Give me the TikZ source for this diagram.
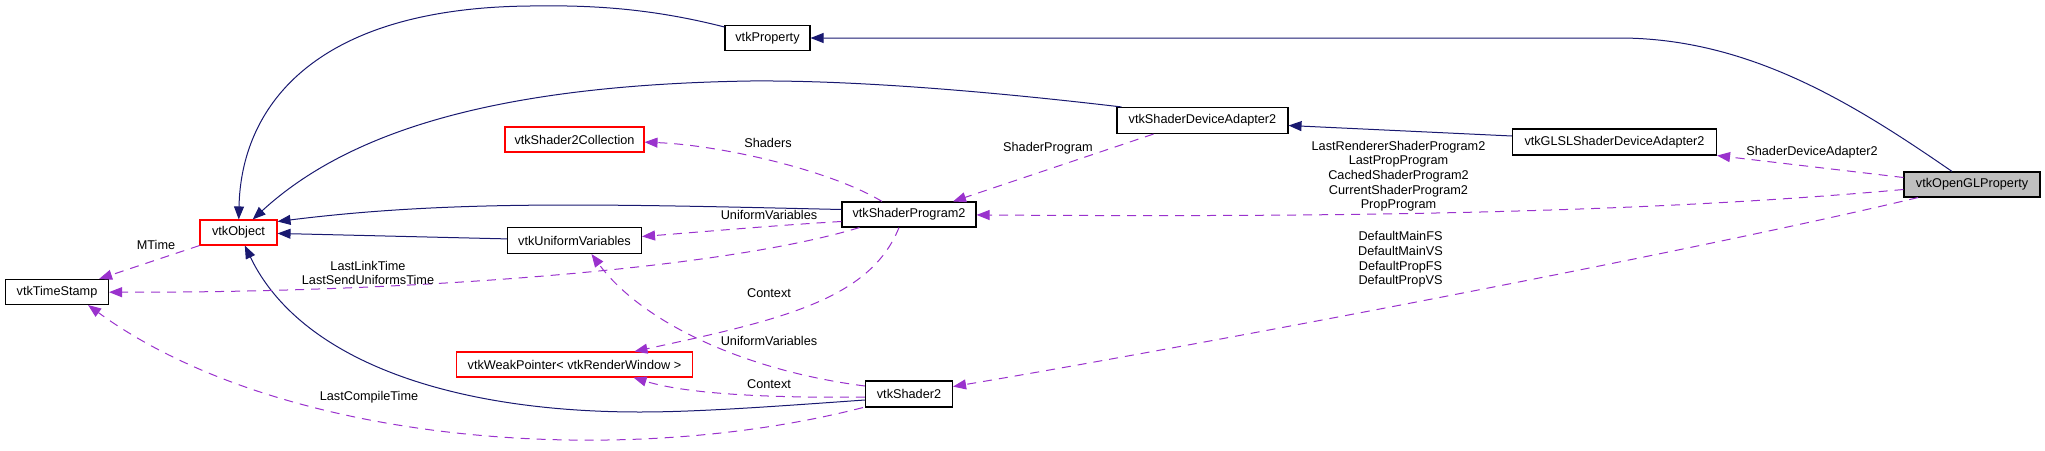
\documentclass[tikz,border=0pt]{standalone}
\usepackage{fontspec}
\setmainfont{Liberation Sans}
\usetikzlibrary{arrows.meta}
\definecolor{inhcol}{HTML}{191970}
\definecolor{asscol}{HTML}{9A32CD}
\definecolor{boxgray}{HTML}{BFBFBF}
\begin{document}
\begin{tikzpicture}[x=1pt,y=-1pt,
  font=\fontsize{12.7}{14.6}\selectfont,
  cls/.style={draw=black, line width=1.1pt, fill=white, inner sep=0pt, minimum height=25pt},
  redcls/.style={cls, draw=red},
  graycls/.style={cls, fill=boxgray},
  inh/.style={draw=inhcol, line width=1pt, -{Triangle[length=13pt,width=10pt]}},
  assoc/.style={draw=asscol, line width=1pt, dash pattern=on 9pt off 7pt, -{Triangle[length=13pt,width=10pt]}},
  lbl/.style={inner sep=0pt, align=center}
]
\useasboundingbox (0,0) rectangle (2045,450);

% classes
\node[cls, minimum width=103pt] (ts) at (57,292) {vtkTimeStamp};
\node[redcls, minimum width=77pt] (obj) at (238.5,232.5) {vtkObject};
\node[redcls, minimum width=139pt] (col) at (574.5,139.5) {vtkShader2Collection};
\node[cls, minimum width=134pt, minimum height=26pt] (uv) at (574.5,240.5) {vtkUniformVariables};
\node[redcls, minimum width=236pt] (wp) at (574.5,364.5) {vtkWeakPointer< vtkRenderWindow >};
\node[cls, minimum width=134pt] (sp2) at (909,214.5) {vtkShaderProgram2};
\node[cls, minimum width=87pt, minimum height=26pt] (sh2) at (909,394) {vtkShader2};
\node[cls, minimum width=85pt] (prop) at (767.5,38) {vtkProperty};
\node[cls, minimum width=171pt, minimum height=26pt] (sda) at (1202.5,120.5) {vtkShaderDeviceAdapter2};
\node[cls, minimum width=204pt, minimum height=26pt] (glsl) at (1614.5,142) {vtkGLSLShaderDeviceAdapter2};
\node[graycls, minimum width=136pt] (ogl) at (1972,184.5) {vtkOpenGLProperty};

% inheritance
\draw[inh] ([yshift=11pt]prop.west) .. controls (650,8) and (590,5) .. (530,6)
  .. controls (310,8) and (241,110) .. (obj);
\draw[inh] ([xshift=5pt]sda.north west) .. controls (1020,95) and (870,80) .. (750,81)
  .. controls (500,85) and (350,130) .. (obj);
\draw[inh] ([yshift=5pt]sp2.west) .. controls (600,204) and (450,200) .. ([yshift=11pt]obj.east);
\draw[inh] (uv) -- (obj);
\draw[inh] ([yshift=-6pt]sh2.west) .. controls (780,406) and (700,412) .. (640,412)
  .. controls (450,412) and (300,360) .. (obj);
\draw[inh] ([xshift=-20pt]ogl.north) .. controls (1853.6,103.6) and (1749,38) .. (1619,38) -- (prop);
\draw[inh] ([yshift=6pt]glsl.west) -- ([yshift=-5pt]sda.east);

% associations
\draw[assoc] (obj.south west) -- ([xshift=-10pt]ts.north east);
\draw[assoc] ([xshift=18pt]sp2.south west) .. controls (720,270) and (400,293) .. (ts);
\draw[assoc] ([xshift=-2pt]sh2.south west) .. controls (620,470) and (280,445) .. ([xshift=-21pt]ts.south east);
\draw[assoc] ([xshift=-27pt]sp2.north) .. controls (830,170) and (720,145) .. (col);
\draw[assoc] ([xshift=-49pt]sda.south) -- ([xshift=44pt]sp2.north);
\draw[assoc] ([yshift=-5pt]ogl.west) .. controls (1620,215) and (1300,217) .. (sp2);
\draw[assoc] ([yshift=7pt]ogl.west) -- (glsl.south east);
\draw[assoc] ([xshift=-54pt]ogl.south) .. controls (1700,250) and (1200,345) .. (sh2);
\draw[assoc] ([yshift=-7pt]sp2.west) .. controls (780,225) and (700,232) .. ([yshift=4pt]uv.east);
\draw[assoc] ([yshift=8pt]sh2.west) .. controls (740,370) and (640,320) .. ([xshift=17pt]uv.south);
\draw[assoc] ([xshift=-10pt]sp2.south) .. controls (870,300) and (780,320) .. ([xshift=60pt]wp.north);
\draw[assoc] ([yshift=-3pt]sh2.west) .. controls (780,398) and (690,395) .. ([xshift=59pt]wp.south);

% labels
\node[lbl] (lMTime) at (156,245) {MTime};
\node[lbl] (lLast) at (368,273) {LastLinkTime\\LastSendUniformsTime};
\node[lbl] (lCompile) at (369,397) {LastCompileTime};
\node[lbl] (lShaders) at (768,143) {Shaders};
\node[lbl] (lSP) at (1048,148) {ShaderProgram};
\node[lbl] (lUV1) at (769,215) {UniformVariables};
\node[lbl] (lCtx1) at (769,293) {Context};
\node[lbl] (lUV2) at (769,341) {UniformVariables};
\node[lbl] (lCtx2) at (769,384) {Context};
\node[lbl] (lOglSP) at (1398.5,176.3) {LastRendererShaderProgram2\\LastPropProgram\\CachedShaderProgram2\\CurrentShaderProgram2\\PropProgram};
\node[lbl] (lSDA) at (1812,152) {ShaderDeviceAdapter2};
\node[lbl] (lDef) at (1400.5,259.5) {DefaultMainFS\\DefaultMainVS\\DefaultPropFS\\DefaultPropVS};
\end{tikzpicture}
\end{document}
